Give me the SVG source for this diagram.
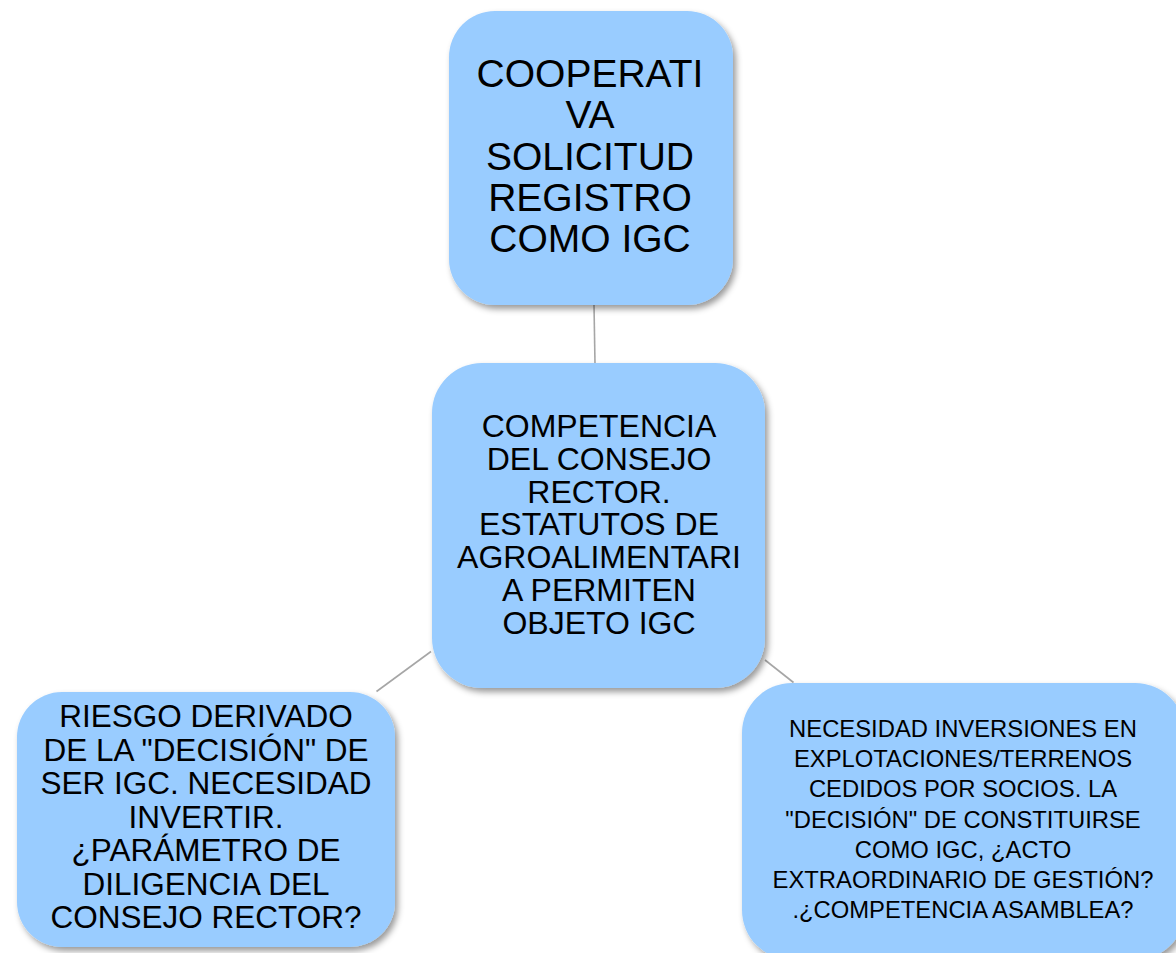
<svg xmlns="http://www.w3.org/2000/svg" width="1176" height="953" viewBox="0 0 1176 953">
<defs>
<filter id="sh" x="-10%" y="-10%" width="130%" height="130%">
<feDropShadow dx="3" dy="4" stdDeviation="3" flood-color="#000" flood-opacity="0.4"/>
</filter>
<style>
.box{fill:#99CCFF;filter:url(#sh);}
.t text{font-family:"Liberation Sans",Arial,sans-serif;fill:#000;text-anchor:middle;}
.conn line{stroke:#A6A6A6;stroke-width:1.6;}
</style>
</defs>
<rect width="1176" height="953" fill="#fff"/>
<g class="conn" id="connectors">
<line x1="594" y1="305" x2="595" y2="364"/>
<line x1="431" y1="651.5" x2="376.5" y2="691.5"/>
<line x1="765" y1="660" x2="793.5" y2="682.5"/>
</g>
<g id="node-top">
<rect class="box" x="449" y="11" width="284" height="294" rx="46"/>
<g class="t" font-size="39"><text x="590" y="87">COOPERATI</text><text x="590" y="128.3">VA</text><text x="590" y="169.6">SOLICITUD</text><text x="590" y="210.9">REGISTRO</text><text x="590" y="252.2">COMO IGC</text></g>
</g>
<g id="node-center">
<rect class="box" x="432" y="363" width="333" height="325" rx="50"/>
<g class="t" font-size="32"><text x="599" y="437">COMPETENCIA</text><text x="599" y="469.8">DEL CONSEJO</text><text x="599" y="502.6">RECTOR.</text><text x="599" y="535.4">ESTATUTOS DE</text><text x="599" y="568.2">AGROALIMENTARI</text><text x="599" y="601">A PERMITEN</text><text x="599" y="633.8">OBJETO IGC</text></g>
</g>
<g id="node-left">
<rect class="box" x="17" y="692" width="378" height="255" rx="45"/>
<g class="t" font-size="31.5"><text x="206" y="727">RIESGO DERIVADO</text><text x="206" y="760.5">DE LA "DECISIÓN" DE</text><text x="206" y="794">SER IGC. NECESIDAD</text><text x="206" y="827.5">INVERTIR.</text><text x="206" y="861">¿PARÁMETRO DE</text><text x="206" y="894.5">DILIGENCIA DEL</text><text x="206" y="928">CONSEJO RECTOR?</text></g>
</g>
<g id="node-right">
<rect class="box" x="742" y="683" width="443" height="277" rx="50"/>
<g class="t" font-size="23.8"><text x="963" y="737">NECESIDAD INVERSIONES EN</text><text x="963" y="767.2">EXPLOTACIONES/TERRENOS</text><text x="963" y="797.3">CEDIDOS POR SOCIOS. LA</text><text x="963" y="827.5">"DECISIÓN" DE CONSTITUIRSE</text><text x="963" y="857.7">COMO IGC, ¿ACTO</text><text x="963" y="887.8">EXTRAORDINARIO DE GESTIÓN?</text><text x="963" y="918">.¿COMPETENCIA ASAMBLEA?</text></g>
</g>
</svg>
